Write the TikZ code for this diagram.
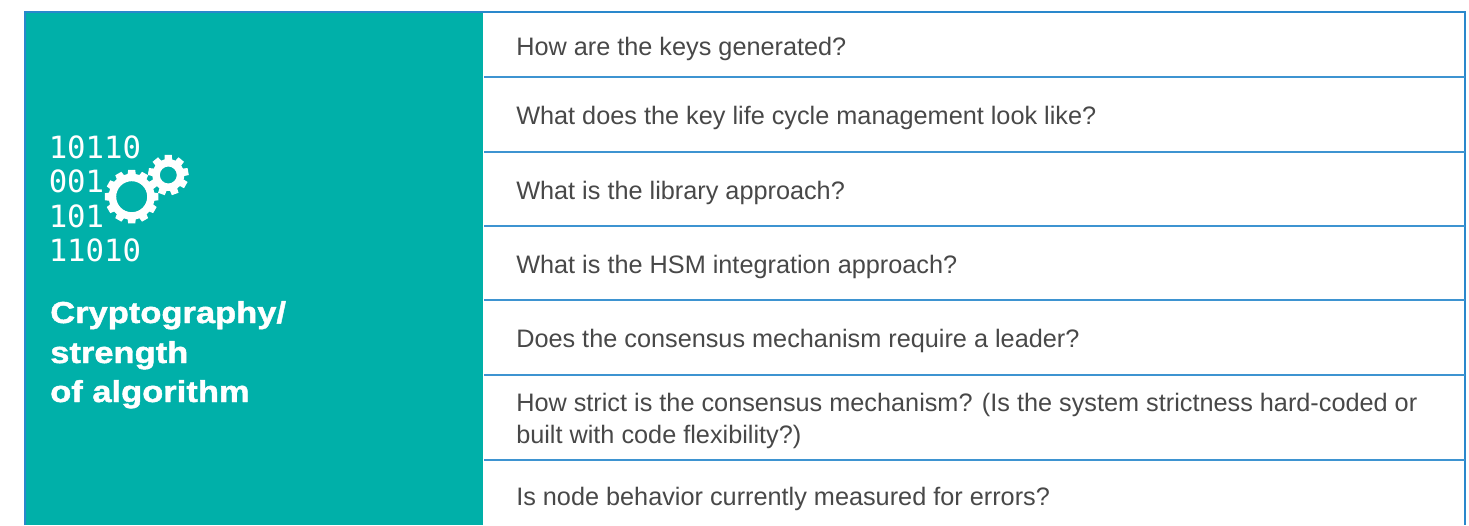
\documentclass[tikz,border=0pt]{standalone}
\usepackage{fontspec}
\setmainfont{Liberation Sans}
\newfontfamily\monof{DejaVu Sans Mono}
\newfontfamily\headf[FakeStretch=1.14,FakeBold=1.4]{Liberation Sans Bold}
\definecolor{tealbg}{HTML}{00B0A9}
\definecolor{rulec}{HTML}{3E94D1}
\definecolor{edgec}{HTML}{2A88CC}
\definecolor{txt}{HTML}{484848}
\usetikzlibrary{calc}
\newcommand{\gearpath}[7]{% cx cy outer root hole teeth phase
  \fill[white,even odd rule]
  \foreach \k [evaluate=\k as \a using #7+\k*360/#6] in {1,...,#6} {
    \ifnum\k=1 ($(#1,#2)+(\a-0.34*360/#6:#4 and -#4)$) \else -- ($(#1,#2)+(\a-0.34*360/#6:#4 and -#4)$) \fi
    -- ($(#1,#2)+(\a-0.25*360/#6:#3 and -#3)$)
    -- ($(#1,#2)+(\a+0.25*360/#6:#3 and -#3)$)
    -- ($(#1,#2)+(\a+0.34*360/#6:#4 and -#4)$)
  } -- cycle
  (#1,#2) circle[radius=#5];
}
\tikzset{
  rowtext/.style={anchor=base west,inner sep=0pt,text=txt,font=\fontsize{18.95pt}{24.6pt}\selectfont,align=left},
  bits/.style={anchor=base west,inner sep=0pt,text=white,font=\monof\fontsize{23pt}{26pt}\selectfont},
  head/.style={anchor=base west,inner sep=0pt,text=white,font=\headf\fontsize{22.7pt}{26pt}\selectfont},
  rowrule/.style={draw=rulec,line width=1pt}
}
\begin{document}
\begin{tikzpicture}[x=0.75pt,y=-0.75pt]
\useasboundingbox (0,0) rectangle (1469,525);
\fill[white] (0,0) rectangle (1469,525);
\fill[tealbg] (25,12) rectangle (483,525);
\draw[edgec,line width=0.8pt] (25,525) -- (25,12) -- (1465,12) -- (1465,525);
\foreach \yy in {77,152,226,300,375,460} \draw[rowrule] (484,\yy) -- (1465,\yy);

\node[bits] (b1) at (48.5,158) {10110};
\node[bits] (b2) at (48.5,192) {001};
\node[bits] (b3) at (48.5,227) {101};
\node[bits] (b4) at (48.5,261) {11010};
\gearpath{131.7}{196.7}{27}{23}{15.5}{12}{0}
\gearpath{168.3}{175}{20.5}{16}{8.5}{9}{10}
\node[head] (h1) at (50,323) {Cryptography/};
\node[head] (h2) at (50,363) {strength};
\node[head] (h3) at (50,402) {of algorithm};

\node[rowtext] (q1) at (516,55) {How are the keys generated?};
\node[rowtext] (q2) at (516,124) {What does the key life cycle management look like?};
\node[rowtext] (q3) at (516,199) {What is the library approach?};
\node[rowtext] (q4) at (516,273) {What is the HSM integration approach?};
\node[rowtext] (q5) at (516,347) {Does the consensus mechanism require a leader?};
\node[rowtext] (q6) at (516,411) {How strict is the consensus mechanism? (Is the system strictness hard-coded or};
\node[rowtext] (q6b) at (516,443) {built with code flexibility?)};
\node[rowtext] (q7) at (516,505) {Is node behavior currently measured for errors?};
\end{tikzpicture}
\end{document}
